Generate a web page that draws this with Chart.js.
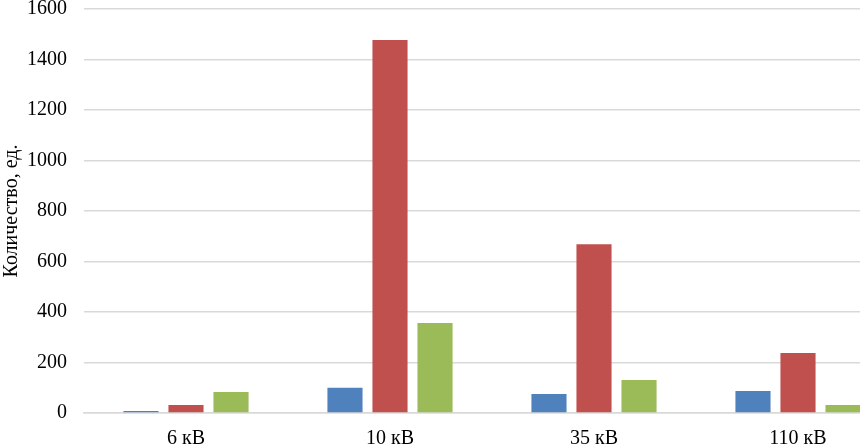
<!DOCTYPE html>
<html>
<head>
<meta charset="utf-8">
<script src="https://cdn.jsdelivr.net/npm/chart.js@4"></script>
<style>
  html, body { margin: 0; padding: 0; background: #fff; overflow: hidden; }
  #wrap { width: 904px; height: 477px; margin-top: -20px; }
</style>
</head>
<body>
<div id="wrap"><canvas id="myChart"></canvas></div>
<script>
// categories and series
const voltages = ['6 кВ', '10 кВ', '35 кВ', '110 кВ'];
const seriesBlue = [8, 100, 75, 87];
const seriesRed = [32, 1477, 668, 238];
const seriesGreen = [83, 356, 131, 32];
const yTicks = [0, 200, 400, 600, 800, 1000, 1200, 1400, 1600];

const ctx = document.getElementById('myChart');
const font = { family: '"Liberation Serif", "Times New Roman", serif', size: 20 };

new Chart(ctx, {
    type: 'bar',
    data: {
        labels: voltages,
        datasets: [
            { data: seriesBlue, backgroundColor: '#4f81bd' },
            { data: seriesRed, backgroundColor: '#c0504d' },
            { data: seriesGreen, backgroundColor: '#9bbb59' }
        ]
    },
    options: {
        responsive: true,
        maintainAspectRatio: false,
        animation: false,
        categoryPercentage: 0.662,
        barPercentage: 0.78,
        layout: { padding: { top: 0, right: 4, bottom: 0, left: 0 } },
        plugins: { legend: { display: false }, tooltip: { enabled: false } },
        scales: {
            x: {
                grid: { display: false },
                border: { color: '#d9d9d9', width: 1.5 },
                ticks: { color: '#000', font: font, padding: 6 }
            },
            y: {
                min: 0,
                max: 1600,
                afterBuildTicks: axis => { axis.ticks = yTicks.map(v => ({ value: v })); },
                afterFit: axis => { axis.width = 84; },
                grid: { color: '#d9d9d9', lineWidth: 1.5, drawTicks: false },
                border: { display: false },
                ticks: { color: '#000', font: font, padding: 17, callback: v => String(v) },
                title: { display: true, text: 'Количество, ед.', color: '#000', font: font, padding: 0 }
            }
        }
    }
});
</script>
</body>
</html>
